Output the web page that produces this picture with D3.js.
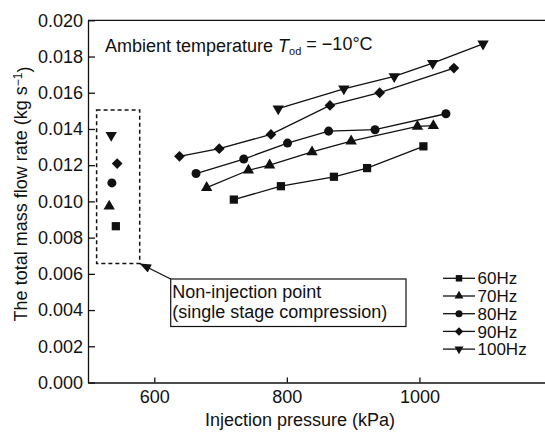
<!DOCTYPE html>
<html>
<head>
<meta charset="utf-8">
<script src="https://cdn.jsdelivr.net/npm/d3@7"></script>
<style>
  body { margin: 0; background: #fff; }
  svg { font-family: "Liberation Sans", Arial, sans-serif; }
</style>
</head>
<body>
<div id="chart"></div>
<script>
// series names (compressor frequency)
const freqs = ["60Hz", "70Hz", "80Hz", "90Hz", "100Hz"];

// injection pressure (kPa) per series
const p60 = [720, 791, 871, 921, 1006];
const p70 = [679, 742, 774, 838, 897, 997, 1021];
const p80 = [663, 735, 801, 863, 933, 1040];
const p90 = [638, 698, 776, 865, 940, 1052];
const p100 = [787, 886, 962, 1020, 1096];

// total mass flow rate (kg/s) per series
const m60 = [0.0101, 0.01084, 0.01136, 0.01184, 0.01304];
const m70 = [0.01076, 0.01172, 0.0120, 0.01273, 0.01333, 0.01414, 0.01418];
const m80 = [0.01154, 0.01234, 0.01322, 0.01388, 0.01396, 0.01484];
const m90 = [0.01249, 0.01291, 0.0137, 0.0153, 0.0160, 0.01736];
const m100 = [0.01512, 0.01622, 0.0169, 0.01763, 0.0187];

// non-injection points (single stage), one per frequency
const pNon = [542, 532, 536, 544, 535];
const mNon = [0.00863, 0.00973, 0.01102, 0.01209, 0.01365];

// axis ticks
const xTicks = [600, 800, 1000];
const yTicks = [0, 0.002, 0.004, 0.006, 0.008, 0.010, 0.012, 0.014, 0.016, 0.018, 0.020];

const pressures = [p60, p70, p80, p90, p100];
const flows = [m60, m70, m80, m90, m100];

const W = 545, H = 433;
const svg = d3.select("#chart").append("svg")
  .attr("width", W).attr("height", H);

const x = d3.scaleLinear().domain([500, 1200]).range([88, 552]);
const y = d3.scaleLinear().domain([0, 0.02]).range([382.5, 20.3]);

const ink = "#111";
const fs = 18;

// marker shapes
const shapes = [d3.symbolSquare, d3.symbolTriangle, d3.symbolCircle, d3.symbolSquare, d3.symbolTriangle];
const rot = [0, 0, 0, 45, 180];
const sizes = [68, 56, 64, 58, 56];
const sym = (i, k) => d3.symbol().type(shapes[i]).size(sizes[i] * k)();

// axes
const yAxis = svg.append("g")
  .attr("transform", `translate(${x.range()[0]},0)`)
  .call(d3.axisLeft(y).tickValues(yTicks).tickFormat(d3.format(".3f"))
    .tickSizeInner(-7).tickSizeOuter(0).tickPadding(5));
const xAxis = svg.append("g")
  .attr("transform", `translate(0,${y.range()[0]})`)
  .call(d3.axisBottom(x).tickValues(xTicks).tickFormat(d3.format("d"))
    .tickSizeInner(-5).tickSizeOuter(0).tickPadding(8));

[xAxis, yAxis].forEach(a => {
  a.selectAll("path, line").attr("stroke", ink).attr("stroke-width", 1.3);
  a.selectAll("text").attr("fill", ink).style("font-size", fs + "px")
    .style("font-family", '"Liberation Sans", Arial, sans-serif');
});

// top and right frame
svg.append("path")
  .attr("d", `M${x.range()[0]},${y(0.02)}H${x.range()[1]}V${y(0)}`)
  .attr("fill", "none").attr("stroke", ink).attr("stroke-width", 1.3);

// axis titles
svg.append("text")
  .attr("x", 300).attr("y", 426)
  .attr("text-anchor", "middle")
  .style("font-size", fs + "px").attr("fill", ink)
  .text("Injection pressure (kPa)");

const yt = svg.append("text")
  .attr("transform", "translate(27,194) rotate(-90)")
  .attr("text-anchor", "middle")
  .style("font-size", fs + "px").attr("fill", ink);
yt.append("tspan").text("The total mass flow rate (kg s");
yt.append("tspan").attr("dy", "-0.45em").style("font-size", "12px").text("\u22121");
yt.append("tspan").attr("dy", "0.45em").text(")");

// condition label
const amb = svg.append("text")
  .attr("x", 105).attr("y", 52)
  .style("font-size", fs + "px").attr("fill", ink);
amb.append("tspan").text("Ambient temperature ");
amb.append("tspan").style("font-style", "italic").text("T");
amb.append("tspan").attr("dy", "0.3em").style("font-size", "11px").text("od");
amb.append("tspan").attr("dy", "-0.3em").text(" = \u221210\u00b0C");

// series lines and markers
const line = d3.line().x(d => x(d[0])).y(d => y(d[1]));
freqs.forEach((f, i) => {
  const pts = pressures[i].map((p, j) => [p, flows[i][j]]);
  svg.append("path").datum(pts)
    .attr("d", line)
    .attr("fill", "none").attr("stroke", ink).attr("stroke-width", 1.3);
  svg.append("g").selectAll("path").data(pts).join("path")
    .attr("d", sym(i, 1))
    .attr("transform", d => `translate(${x(d[0])},${y(d[1])}) rotate(${rot[i]})`)
    .attr("fill", ink);
});

// non-injection points
svg.append("g").selectAll("path").data(freqs).join("path")
  .attr("d", (d, i) => sym(i, 1))
  .attr("transform", (d, i) => `translate(${x(pNon[i])},${y(mNon[i])}) rotate(${rot[i]})`)
  .attr("fill", ink);

// dashed box round the non-injection points
const bx0 = x(513), bx1 = x(578), by0 = y(0.01505), by1 = y(0.00657);
svg.append("rect")
  .attr("x", bx0).attr("y", by0)
  .attr("width", bx1 - bx0).attr("height", by1 - by0)
  .attr("fill", "none").attr("stroke", ink)
  .attr("stroke-width", 1.5).attr("stroke-dasharray", "4,3");

// note box with arrow
const nx0 = 170.7, ny0 = 279, nx1 = 406, ny1 = 326.5;
svg.append("defs").append("marker")
  .attr("id", "head").attr("viewBox", "0 0 10 8")
  .attr("refX", 10).attr("refY", 4)
  .attr("markerWidth", 12).attr("markerHeight", 9)
  .attr("markerUnits", "userSpaceOnUse")
  .attr("orient", "auto")
  .append("path").attr("d", "M0,0L10,4L0,8Z").attr("fill", ink);
svg.append("line")
  .attr("x1", nx0).attr("y1", ny0).attr("x2", bx1).attr("y2", by1)
  .attr("stroke", ink).attr("stroke-width", 1.3)
  .attr("marker-end", "url(#head)");
svg.append("rect")
  .attr("x", nx0).attr("y", ny0)
  .attr("width", nx1 - nx0).attr("height", ny1 - ny0)
  .attr("fill", "#fff").attr("stroke", ink).attr("stroke-width", 1.2);
svg.append("text")
  .attr("x", nx0 + 1.5).attr("y", 298)
  .style("font-size", fs + "px").attr("fill", ink)
  .text("Non-injection point");
svg.append("text")
  .attr("x", nx0 + 1.5).attr("y", 318)
  .style("font-size", fs + "px").attr("fill", ink)
  .text("(single stage compression)");

// legend
const lg = svg.append("g").attr("transform", "translate(443,278.3)");
freqs.forEach((f, i) => {
  const row = lg.append("g").attr("transform", `translate(0,${i * 17.7})`);
  row.append("line").attr("x1", 0).attr("x2", 32)
    .attr("stroke", ink).attr("stroke-width", 1.3);
  row.append("path").attr("d", sym(i, 0.62))
    .attr("transform", `translate(16,0) rotate(${rot[i]})`)
    .attr("fill", ink);
  row.append("text").attr("x", 34.5).attr("dy", "0.36em")
    .style("font-size", "17px").attr("fill", ink)
    .text(f);
});
</script>
</body>
</html>
